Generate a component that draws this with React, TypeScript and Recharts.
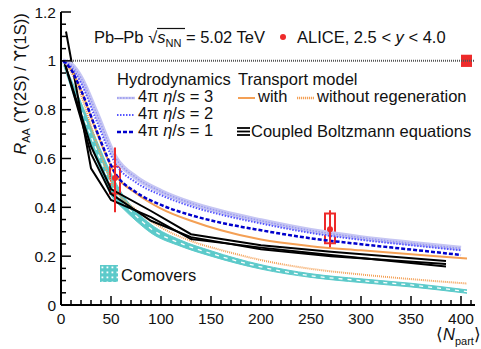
import React from 'react';
import {
  ComposedChart, Line, Area, XAxis, YAxis, ReferenceLine, ReferenceArea,
  Scatter, ErrorBar, Customized,
} from 'recharts';

const FONT = '"Liberation Sans", Arial, Helvetica, sans-serif';

// ---- axes ----
const xMajorTicks = [0, 50, 100, 150, 200, 250, 300, 350, 400];
const yMajorTicks = [0, 0.2, 0.4, 0.6, 0.8, 1, 1.2];
const yTickLabels = ['0', '0.2', '0.4', '0.6', '0.8', '1', '1.2'];
const xDomain = [0, 414];
const yDomain = [0, 1.2];

// ---- Hydrodynamics ----
const hydroX = [2, 10, 20, 35, 55, 75, 100, 130, 160, 200, 250, 300, 350, 400];
const hydro3 = [1.0, 0.985, 0.93, 0.79, 0.6, 0.522, 0.465, 0.417, 0.382, 0.345, 0.305, 0.276, 0.253, 0.232];
const hydro2 = [1.0, 0.975, 0.91, 0.76, 0.575, 0.502, 0.45, 0.404, 0.37, 0.334, 0.295, 0.267, 0.245, 0.224];
const hydro1 = [1.0, 0.965, 0.88, 0.72, 0.535, 0.462, 0.41, 0.368, 0.337, 0.306, 0.273, 0.249, 0.227, 0.205];

// ---- Transport model ----
const trX = [2, 10, 20, 35, 55, 75, 100, 130, 160, 200, 250, 300, 350, 406];
const trWith = [1.0, 0.965, 0.88, 0.715, 0.53, 0.458, 0.395, 0.345, 0.306, 0.268, 0.241, 0.224, 0.208, 0.19];
const trWithout = [1.0, 0.955, 0.86, 0.67, 0.47, 0.39, 0.318, 0.262, 0.225, 0.184, 0.148, 0.125, 0.106, 0.088];

// ---- Comovers ----
const comX = [2, 20, 35, 50, 62, 75, 90, 120, 150, 200, 250, 300, 350, 406];
const comLow = [0.99, 0.77, 0.6, 0.45, 0.395, 0.345, 0.295, 0.24, 0.2, 0.147, 0.113, 0.092, 0.074, 0.048];
const comHigh = [1.0, 0.83, 0.68, 0.54, 0.45, 0.385, 0.33, 0.265, 0.222, 0.165, 0.128, 0.107, 0.089, 0.062];
const comMid = [0.995, 0.8, 0.64, 0.495, 0.42, 0.365, 0.312, 0.252, 0.211, 0.156, 0.12, 0.1, 0.082, 0.055];

// ---- Coupled Boltzmann equations ----
const blzAX = [5, 30, 50, 90, 130, 200, 270, 385];
const blzA = [1.12, 0.56, 0.43, 0.36, 0.27, 0.235, 0.205, 0.158];
const blzX = [3, 30, 50, 90, 130, 200, 270, 385];
const blzB = [1.0, 0.65, 0.475, 0.385, 0.29, 0.245, 0.218, 0.18];
const blzC = [1.0, 0.62, 0.455, 0.345, 0.278, 0.228, 0.2, 0.168];

// ---- ALICE data ----
const aliceX = [54, 269];
const aliceY = [0.52, 0.31];
const aliceStatLo = [0.14, 0.073];
const aliceStatHi = [0.125, 0.078];
const aliceSysLo = [0.457, 0.253];
const aliceSysHi = [0.567, 0.375];
const aliceGlobalX = [400, 411];
const aliceGlobalY = [0.975, 1.025];

const SYS_HALF_WIDTH = 5;

const pts = (xs: number[], ys: number[]) => xs.map((x, i) => ({ x, y: ys[i] }));

const xTicksAll = Array.from({ length: 42 }, (_, i) => i * 10);
const yTicksAll = Array.from({ length: 25 }, (_, i) => Math.round(i * 5) / 100);

const isMajorX = (v: number) => xMajorTicks.includes(v);
const majorYIndex = (v: number) => yMajorTicks.findIndex((m) => Math.abs(m - v) < 1e-6);

const C = {
  lav: '#c6c6f3',
  lavDot: '#9a9af0',
  blue2: '#5555ff',
  blue1: '#0000cc',
  orange: '#f4a055',
  cyan: '#5ccaca',
  red: '#ee2a2a',
};

const XTickBottom = (p: any) => {
  const { x, y, payload } = p;
  const v = payload.value;
  const major = isMajorX(v);
  return (
    <g>
      <line x1={x} x2={x} y1={y} y2={y - (major ? 9 : 5)} stroke="#000" strokeWidth={1.5} />
      {major && (
        <text x={x} y={y + 19} textAnchor="middle" fontSize={15.5} fontFamily={FONT} fill="#111">{v}</text>
      )}
    </g>
  );
};
const XTickTop = (p: any) => {
  const { x, y, payload } = p;
  const major = isMajorX(payload.value);
  return <line x1={x} x2={x} y1={y} y2={y + (major ? 9 : 5)} stroke="#000" strokeWidth={1.5} />;
};
const YTickLeft = (p: any) => {
  const { x, y, payload } = p;
  const idx = majorYIndex(payload.value);
  const major = idx >= 0;
  return (
    <g>
      <line x1={x} x2={x + (major ? 10 : 5)} y1={y} y2={y} stroke="#000" strokeWidth={1.5} />
      {major && (
        <text x={x - 5} y={y + 5.5} textAnchor="end" fontSize={15.5} fontFamily={FONT} fill="#111">{yTickLabels[idx]}</text>
      )}
    </g>
  );
};
const YTickRight = (p: any) => {
  const { x, y, payload } = p;
  const major = majorYIndex(payload.value) >= 0;
  return <line x1={x} x2={x - (major ? 10 : 5)} y1={y} y2={y} stroke="#000" strokeWidth={1.5} />;
};

const LEG = 16.5;
const UPS = 'ϒ';

const Legendish = () => (
  <g fontFamily={FONT} fill="#111">
    <defs>
      <pattern id="comPat" width="5" height="5" patternUnits="userSpaceOnUse">
        <rect width="5" height="5" fill={C.cyan} />
        <rect x="1.5" y="1.5" width="1.8" height="1.8" fill="#fff" />
      </pattern>
    </defs>
    {/* title row */}
    <text x={94} y={43} fontSize={LEG}>
      <tspan>Pb–Pb </tspan>
      <tspan>√</tspan>
      <tspan fontStyle="italic">s</tspan>
      <tspan fontSize={11} dy={4}>NN</tspan>
      <tspan dy={-4}> = 5.02 TeV</tspan>
    </text>
    <line x1={157} x2={185} y1={28.5} y2={28.5} stroke="#111" strokeWidth={1.2} />
    <circle cx={283} cy={37} r={3} fill={C.red} />
    <text x={297} y={43} fontSize={LEG}>
      <tspan>ALICE, 2.5 &lt; </tspan>
      <tspan fontStyle="italic">y</tspan>
      <tspan> &lt; 4.0</tspan>
    </text>

    {/* hydrodynamics */}
    <text x={117} y={85} fontSize={LEG}>Hydrodynamics</text>
    <line x1={117} x2={135} y1={98} y2={98} stroke={C.lav} strokeWidth={2.5} />
    <line x1={117} x2={135} y1={98} y2={98} stroke={C.lavDot} strokeWidth={1.5} strokeDasharray="1.5 1.5" />
    <text x={138} y={102} fontSize={LEG}>
      4π <tspan fontStyle="italic">η</tspan>/<tspan fontStyle="italic">s</tspan> = 3
    </text>
    <line x1={117} x2={135} y1={115} y2={115} stroke={C.blue2} strokeWidth={2} strokeDasharray="1.5 1.5" />
    <text x={138} y={119} fontSize={LEG}>
      4π <tspan fontStyle="italic">η</tspan>/<tspan fontStyle="italic">s</tspan> = 2
    </text>
    <line x1={117} x2={135} y1={132} y2={132} stroke={C.blue1} strokeWidth={2.5} strokeDasharray="4 2" />
    <text x={138} y={136} fontSize={LEG}>
      4π <tspan fontStyle="italic">η</tspan>/<tspan fontStyle="italic">s</tspan> = 1
    </text>

    {/* transport */}
    <text x={238} y={85} fontSize={LEG}>Transport model</text>
    <line x1={238} x2={255} y1={98} y2={98} stroke={C.orange} strokeWidth={2} />
    <text x={258} y={102} fontSize={LEG}>with</text>
    <line x1={297} x2={314} y1={98} y2={98} stroke={C.orange} strokeWidth={2.5} strokeDasharray="1.2 0.8" />
    <text x={317} y={102} fontSize={LEG}>without regeneration</text>

    {/* coupled boltzmann */}
    <line x1={237} x2={250} y1={128} y2={128} stroke="#000" strokeWidth={1.8} />
    <line x1={237} x2={250} y1={131.5} y2={131.5} stroke="#000" strokeWidth={1.8} />
    <line x1={237} x2={250} y1={135} y2={135} stroke="#000" strokeWidth={1.8} />
    <text x={251} y={137} fontSize={LEG}>Coupled Boltzmann equations</text>

    {/* comovers */}
    <rect x={100} y={265} width={18} height={17} fill="url(#comPat)" />
    <text x={121} y={281} fontSize={LEG}>Comovers</text>

    {/* axis titles */}
    <text transform="translate(26, 84) rotate(-90)" textAnchor="middle" fontSize={16.5}>
      <tspan fontStyle="italic">R</tspan>
      <tspan fontSize={11} dy={4}>AA</tspan>
      <tspan dy={-4}> (</tspan>
      <tspan fontFamily="DejaVu Sans">{UPS}</tspan>
      <tspan>(2S) / </tspan>
      <tspan fontFamily="DejaVu Sans">{UPS}</tspan>
      <tspan>(1S))</tspan>
    </text>
    <text x={436} y={340} fontSize={16.5}>
      <tspan>⟨</tspan>
      <tspan fontStyle="italic">N</tspan>
      <tspan fontSize={11} dy={5}>part</tspan>
      <tspan dy={-5}>⟩</tspan>
    </text>
  </g>
);

export default function App() {
  const alice = aliceX.map((x, i) => ({
    x, y: aliceY[i], err: [aliceStatLo[i], aliceStatHi[i]],
  }));
  const comBand = comX.map((x, i) => ({ x, band: [comLow[i], comHigh[i]] }));

  return (
    <div style={{ position: 'absolute', left: 0, top: 0, background: '#fff' }}>
      <ComposedChart width={481} height={349} margin={{ top: 12, right: 6, bottom: 0, left: 0 }}>
        <XAxis
          xAxisId={0} type="number" dataKey="x" domain={xDomain} ticks={xTicksAll} interval={0}
          allowDataOverflow height={44} tickSize={0} tickMargin={0} tickLine={false}
          tick={<XTickBottom />} axisLine={{ stroke: '#000', strokeWidth: 2 }}
        />
        <XAxis
          xAxisId="top" orientation="top" type="number" dataKey="x" domain={xDomain} ticks={xTicksAll}
          interval={0} allowDataOverflow height={0} tickSize={0} tickMargin={0} tickLine={false}
          tick={<XTickTop />} axisLine={{ stroke: '#000', strokeWidth: 2 }}
        />
        <YAxis
          yAxisId={0} type="number" domain={yDomain} ticks={yTicksAll} interval={0} allowDataOverflow
          width={61} tickSize={0} tickMargin={0} tickLine={false} tick={<YTickLeft />}
          axisLine={{ stroke: '#000', strokeWidth: 2 }}
        />
        <YAxis
          yAxisId="right" orientation="right" type="number" domain={yDomain} ticks={yTicksAll}
          interval={0} allowDataOverflow width={0} tickSize={0} tickMargin={0} tickLine={false}
          tick={<YTickRight />} axisLine={{ stroke: '#000', strokeWidth: 2 }}
        />

        <ReferenceLine y={1} stroke="#555" strokeWidth={2} strokeDasharray="1 1" />

        <Area data={comBand} dataKey="band" type="monotone" stroke={C.cyan} strokeWidth={1}
          fill={C.cyan} fillOpacity={1} isAnimationActive={false} dot={false} activeDot={false} />
        <Line data={pts(comX, comMid)} dataKey="y" type="monotone" stroke="#fff" strokeWidth={1.3}
          strokeDasharray="4 5" dot={false} isAnimationActive={false} />

        <Line data={pts(trX, trWithout)} dataKey="y" type="monotone" stroke={C.orange} strokeWidth={2}
          strokeDasharray="1 1" dot={false} isAnimationActive={false} />

        <Line data={pts(blzAX, blzA)} dataKey="y" type="linear" stroke="#000" strokeWidth={2} dot={false} isAnimationActive={false} />
        <Line data={pts(blzX, blzB)} dataKey="y" type="linear" stroke="#000" strokeWidth={2} dot={false} isAnimationActive={false} />
        <Line data={pts(blzX, blzC)} dataKey="y" type="linear" stroke="#000" strokeWidth={2} dot={false} isAnimationActive={false} />

        <Line data={pts(trX, trWith)} dataKey="y" type="monotone" stroke={C.orange} strokeWidth={2}
          dot={false} isAnimationActive={false} />

        <Line data={pts(hydroX, hydro3)} dataKey="y" type="monotone" stroke={C.lav} strokeWidth={5}
          dot={false} isAnimationActive={false} />
        <Line data={pts(hydroX, hydro3)} dataKey="y" type="monotone" stroke={C.lavDot} strokeWidth={1.5}
          strokeDasharray="1.5 1.5" dot={false} isAnimationActive={false} />
        <Line data={pts(hydroX, hydro2)} dataKey="y" type="monotone" stroke={C.blue2} strokeWidth={2}
          strokeDasharray="1.5 1.5" dot={false} isAnimationActive={false} />
        <Line data={pts(hydroX, hydro1)} dataKey="y" type="monotone" stroke={C.blue1} strokeWidth={2.5}
          strokeDasharray="4 2" dot={false} isAnimationActive={false} />

        {aliceX.map((x, i) => (
          <ReferenceArea key={i} x1={x - SYS_HALF_WIDTH} x2={x + SYS_HALF_WIDTH} y1={aliceSysLo[i]} y2={aliceSysHi[i]}
            fill="none" fillOpacity={0} stroke={C.red} strokeWidth={2} ifOverflow="visible" />
        ))}
        <ReferenceArea x1={aliceGlobalX[0]} x2={aliceGlobalX[1]} y1={aliceGlobalY[0]} y2={aliceGlobalY[1]}
          fill={C.red} fillOpacity={1} stroke="none" ifOverflow="visible" />

        <Scatter data={alice} dataKey="y" fill={C.red} isAnimationActive={false}
          shape={(p: any) => <circle cx={p.cx} cy={p.cy} r={3} fill={C.red} />}>
          <ErrorBar dataKey="err" direction="y" width={0} stroke={C.red} strokeWidth={2} isAnimationActive={false} />
        </Scatter>

        <Customized component={Legendish} />
      </ComposedChart>
    </div>
  );
}
